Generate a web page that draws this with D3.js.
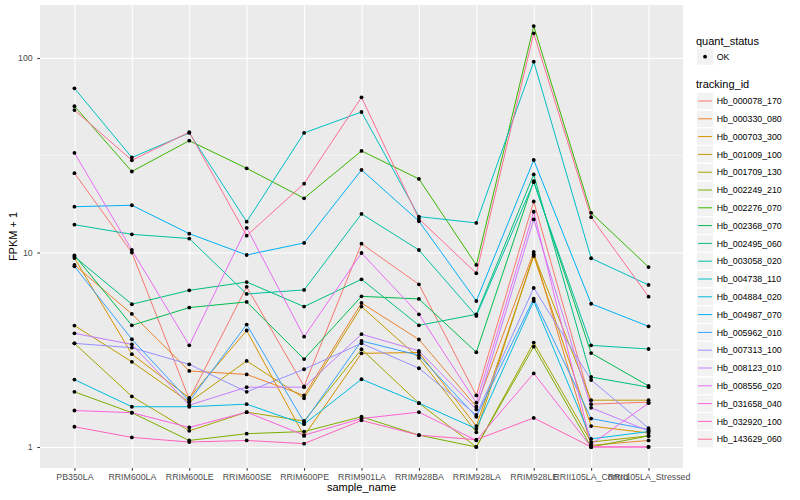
<!DOCTYPE html>
<html>
<head>
<meta charset="utf-8">
<script src="https://cdn.jsdelivr.net/npm/d3@7"></script>
<style>
body { margin: 0; background: #fff; }
text { font-family: "Liberation Sans", Arial, sans-serif; }
</style>
</head>
<body>
<div id="chart"></div>
<script>
// categories on the x axis
var samples = ["PB350LA", "RRIM600LA", "RRIM600LE", "RRIM600SE", "RRIM600PE", "RRIM901LA",
    "RRIM928BA", "RRIM928LA", "RRIM928LE", "RRII105LA_Control", "RRII105LA_Stressed"];

// FPKM + 1 per tracking id, one value per sample
var hb_000078_170 = [25.6, 10.0, 1.76, 6.66, 2.05, 11.1, 6.86, 1.84, 18.3, 1.66, 1.70];
var hb_000330_080 = [8.63, 4.83, 2.46, 2.36, 1.84, 5.50, 3.57, 1.61, 10.06, 1.02, 1.08];
var hb_000703_300 = [9.37, 3.00, 1.79, 3.97, 1.14, 3.03, 3.06, 1.28, 9.59, 1.28, 1.18];
var hb_001009_100 = [4.21, 2.74, 1.70, 2.77, 1.78, 5.27, 2.87, 1.19, 9.79, 1.74, 1.74];
var hb_001709_130 = [3.41, 1.82, 1.21, 1.51, 1.36, 3.18, 1.68, 1.00, 3.44, 1.06, 1.14];
var hb_002249_210 = [1.92, 1.50, 1.08, 1.17, 1.20, 1.43, 1.15, 1.00, 3.28, 1.00, 1.14];
var hb_002276_070 = [56.6, 26.1, 37.6, 27.1, 19.0, 33.3, 23.9, 8.63, 146.1, 16.0, 8.42];
var hb_002368_070 = [9.67, 4.22, 5.21, 5.57, 2.83, 5.95, 5.77, 3.07, 23.3, 3.04, 2.06];
var hb_002495_060 = [9.52, 5.42, 6.39, 7.05, 5.27, 7.28, 4.22, 4.81, 25.2, 2.29, 2.03];
var hb_003058_020 = [13.9, 12.4, 11.8, 6.12, 6.42, 15.8, 10.3, 4.72, 23.0, 3.33, 3.19];
var hb_004738_110 = [69.9, 30.8, 41.2, 14.4, 41.2, 52.8, 15.3, 14.2, 95.8, 9.34, 6.81];
var hb_004884_020 = [2.22, 1.61, 1.61, 1.66, 1.31, 2.23, 1.68, 1.24, 5.63, 1.10, 1.20];
var hb_004987_070 = [17.2, 17.5, 12.5, 9.71, 11.2, 26.6, 14.5, 5.63, 29.9, 5.45, 4.17];
var hb_005962_010 = [8.49, 3.58, 1.72, 4.26, 1.34, 3.51, 2.96, 1.43, 5.79, 1.40, 1.23];
var hb_007313_100 = [3.41, 3.24, 2.66, 1.92, 2.51, 3.41, 2.54, 1.46, 6.57, 2.21, 1.25];
var hb_008123_010 = [3.84, 3.37, 1.64, 2.03, 2.03, 3.80, 3.12, 1.56, 14.8, 1.59, 1.21];
var hb_008556_020 = [32.5, 10.3, 3.33, 13.4, 3.69, 9.94, 4.81, 1.69, 16.2, 1.03, 1.68];
var hb_031658_040 = [1.54, 1.50, 1.26, 1.51, 1.15, 1.40, 1.51, 1.08, 2.39, 1.00, 1.00];
var hb_032920_100 = [1.27, 1.12, 1.06, 1.08, 1.04, 1.37, 1.15, 1.09, 1.41, 1.00, 1.00];
var hb_143629_060 = [54.0, 29.8, 41.6, 12.2, 22.6, 62.8, 14.9, 7.82, 134.0, 15.2, 5.93];

var trackingIds = ["Hb_000078_170", "Hb_000330_080", "Hb_000703_300", "Hb_001009_100",
    "Hb_001709_130", "Hb_002249_210", "Hb_002276_070", "Hb_002368_070", "Hb_002495_060",
    "Hb_003058_020", "Hb_004738_110", "Hb_004884_020", "Hb_004987_070", "Hb_005962_010",
    "Hb_007313_100", "Hb_008123_010", "Hb_008556_020", "Hb_031658_040", "Hb_032920_100",
    "Hb_143629_060"];

var seriesValues = [hb_000078_170, hb_000330_080, hb_000703_300, hb_001009_100,
    hb_001709_130, hb_002249_210, hb_002276_070, hb_002368_070, hb_002495_060,
    hb_003058_020, hb_004738_110, hb_004884_020, hb_004987_070, hb_005962_010,
    hb_007313_100, hb_008123_010, hb_008556_020, hb_031658_040, hb_032920_100,
    hb_143629_060];

var colors = ["#F8766D", "#EA8331", "#D89000", "#C09B00", "#A3A500", "#7CAE00", "#39B600",
    "#00BB4E", "#00BF7D", "#00C1A3", "#00BFC4", "#00BAE0", "#00B0F6", "#35A2FF", "#9590FF",
    "#C77CFF", "#E76BF3", "#FA62DB", "#FF62BC", "#FF6C91"];

var yTicks = [1, 10, 100];
var yMinorTicks = [Math.sqrt(10), Math.sqrt(1000)];

function plotChart() {
    var margin = {top: 5, right: 117, bottom: 32, left: 40},
    width = 800 - margin.left - margin.right,
    height = 500 - margin.top - margin.bottom;

    var svg = d3.select("#chart")
      .append("svg")
      .attr("width", 800)
      .attr("height", 500);

    var g = svg.append("g")
      .attr("transform", "translate(" + margin.left + "," + margin.top + ")");

    // panel background
    g.append("rect")
      .attr("width", width)
      .attr("height", height)
      .attr("fill", "#EBEBEB");

    var x = d3.scalePoint()
      .domain(samples)
      .range([0, width])
      .padding(0.6);

    // log scale with ggplot style 5% expansion
    var all = d3.merge(seriesValues);
    var lo = Math.log10(d3.min(all)), hi = Math.log10(d3.max(all));
    var pad = (hi - lo) * 0.05;
    var y = d3.scaleLog()
      .domain([Math.pow(10, lo - pad), Math.pow(10, hi + pad)])
      .range([height, 0]);

    // minor gridlines
    g.selectAll(".minor")
      .data(yMinorTicks)
      .enter().append("line")
      .attr("class", "minor")
      .attr("x1", 0).attr("x2", width)
      .attr("y1", function(d) { return y(d); })
      .attr("y2", function(d) { return y(d); })
      .attr("stroke", "#fff")
      .attr("stroke-width", 0.55);

    // major gridlines
    var gy = g.append("g")
      .call(d3.axisLeft(y).tickValues(yTicks).tickSize(-width).tickFormat(""));
    var gx = g.append("g")
      .attr("transform", "translate(0," + height + ")")
      .call(d3.axisBottom(x).tickSize(-height).tickFormat(""));
    [gy, gx].forEach(function(a) {
        a.select(".domain").remove();
        a.selectAll("line").attr("stroke", "#fff").attr("stroke-width", 1.1);
    });

    var line = d3.line()
      .x(function(d, i) { return x(samples[i]); })
      .y(function(d) { return y(d); });

    seriesValues.forEach(function(vals, k) {
        g.append("path")
          .datum(vals)
          .attr("fill", "none")
          .attr("stroke", colors[k])
          .attr("stroke-width", 1)
          .attr("d", line);
    });

    seriesValues.forEach(function(vals) {
        g.selectAll(null)
          .data(vals)
          .enter().append("circle")
          .attr("cx", function(d, i) { return x(samples[i]); })
          .attr("cy", function(d) { return y(d); })
          .attr("r", 1.9)
          .attr("fill", "#000");
    });

    // axes
    var ax = g.append("g")
      .attr("transform", "translate(0," + height + ")")
      .call(d3.axisBottom(x).tickSize(2.75).tickPadding(3.5));
    var ay = g.append("g")
      .call(d3.axisLeft(y).tickValues(yTicks).tickSize(2.75).tickPadding(4.5)
        .tickFormat(d3.format("d")));
    [ax, ay].forEach(function(a) {
        a.select(".domain").remove();
        a.selectAll("line").attr("stroke", "#333333");
        a.selectAll("text")
          .attr("fill", "#4D4D4D")
          .style("font-size", "8.8px")
          .style("font-family", "'Liberation Sans', Arial, sans-serif");
    });

    svg.append("text")
      .attr("x", margin.left + width / 2)
      .attr("y", 491)
      .attr("text-anchor", "middle")
      .style("font-size", "11px")
      .text("sample_name");

    svg.append("text")
      .attr("transform", "translate(16.5," + (margin.top + height / 2) + ") rotate(-90)")
      .attr("text-anchor", "middle")
      .style("font-size", "11px")
      .text("FPKM + 1");

    // legends
    var lg = svg.append("g");
    var keyX = 696.4, keySize = 17.28;

    lg.append("text")
      .attr("x", 696).attr("y", 44.5)
      .style("font-size", "11px")
      .text("quant_status");
    lg.append("rect")
      .attr("x", keyX).attr("y", 56.7 - keySize / 2)
      .attr("width", keySize).attr("height", keySize)
      .attr("fill", "#F2F2F2").attr("stroke", "#fff");
    lg.append("circle")
      .attr("cx", keyX + keySize / 2).attr("cy", 56.7)
      .attr("r", 1.9).attr("fill", "#000");
    lg.append("text")
      .attr("x", 716.7).attr("y", 56.7 + 3.1)
      .style("font-size", "8.8px")
      .text("OK");

    lg.append("text")
      .attr("x", 696).attr("y", 88)
      .style("font-size", "11px")
      .text("tracking_id");

    var items = lg.selectAll(".item")
      .data(trackingIds)
      .enter().append("g")
      .attr("class", "item")
      .attr("transform", function(d, i) { return "translate(0," + (101 + i * 17.8) + ")"; });
    items.append("rect")
      .attr("x", keyX).attr("y", -keySize / 2)
      .attr("width", keySize).attr("height", keySize)
      .attr("fill", "#F2F2F2").attr("stroke", "#fff");
    items.append("line")
      .attr("x1", keyX + 1.7).attr("x2", keyX + keySize - 1.7)
      .attr("stroke", function(d, i) { return colors[i]; })
      .attr("stroke-width", 1);
    items.append("text")
      .attr("x", 716.7).attr("y", 3.1)
      .style("font-size", "8.8px")
      .text(function(d) { return d; });
}

plotChart();
</script>
</body>
</html>
